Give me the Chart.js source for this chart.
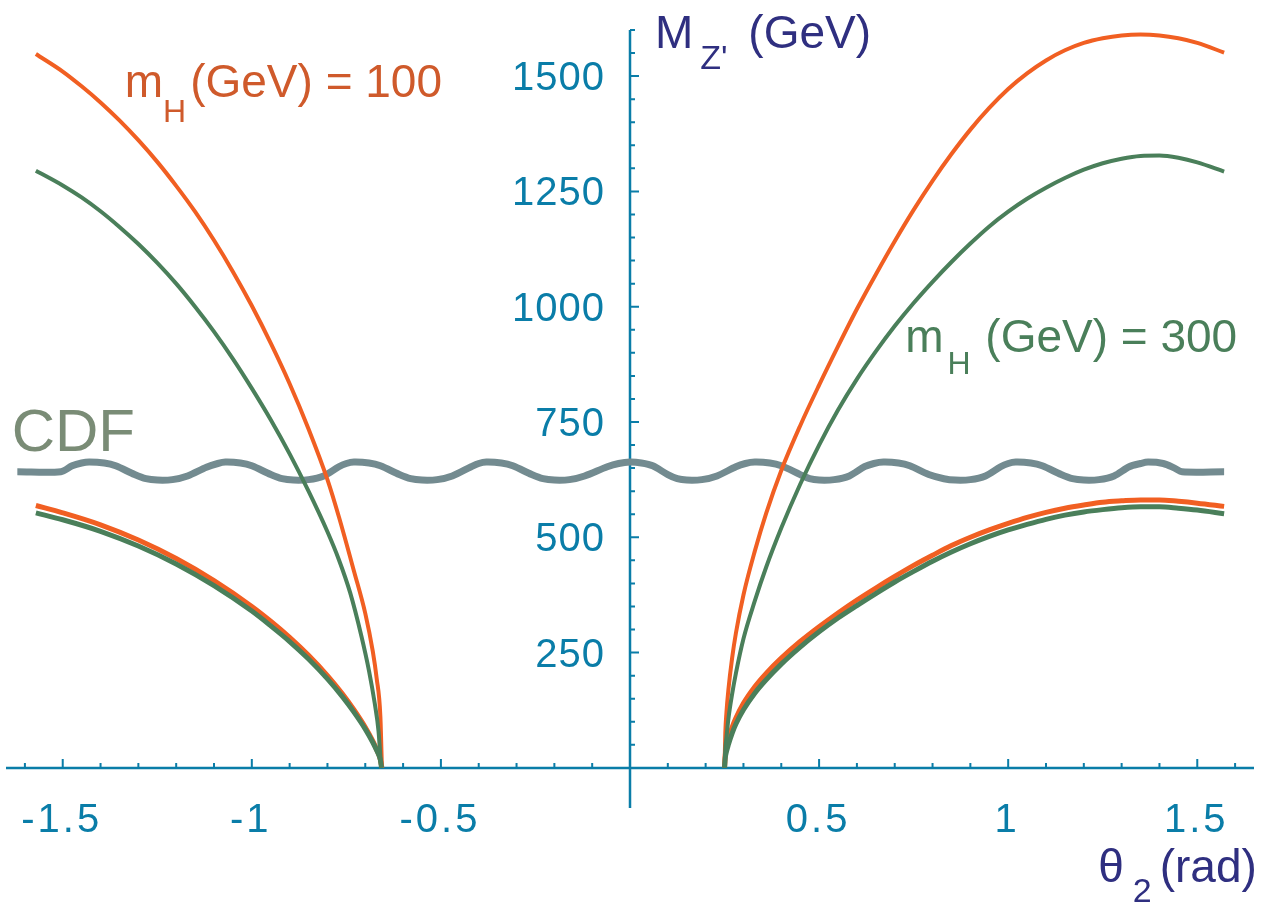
<!DOCTYPE html>
<html>
<head>
<meta charset="utf-8">
<title>M_Z' versus theta_2</title>
<script src="https://cdn.jsdelivr.net/npm/chart.js@4.4.1/dist/chart.umd.min.js"></script>
<style>
  html, body { margin: 0; padding: 0; background: #ffffff; }
  #wrap { width: 1277px; height: 909px; }
</style>
</head>
<body>
<div id="wrap"><canvas id="mzChart" width="1277" height="909"></canvas></div>
<script>
// theta_2 (rad) -> M_Z' (GeV)
// m_H = 100 GeV
const upperLeft100 = [[-1.571,1548],[-1.50,1510],[-1.45,1478],[-1.40,1443],[-1.35,1404],[-1.30,1361],[-1.25,1314],[-1.20,1262],[-1.15,1206],[-1.10,1144],[-1.05,1076],[-1.00,1002],[-0.95,921],[-0.90,833],[-0.85,735],[-0.80,625],[-0.77,545],[-0.73,427],[-0.70,335],[-0.68,252],[-0.67,195],[-0.66,110],[-0.656,0]];
const lowerLeft100 = [[-1.571,569],[-1.50,553],[-1.40,527],[-1.30,494],[-1.20,454],[-1.10,406],[-1.00,350],[-0.95,318],[-0.90,283],[-0.85,244],[-0.80,200],[-0.76,160],[-0.73,126],[-0.70,88],[-0.68,58],[-0.67,40],[-0.66,18],[-0.656,0]];
const upperRight100 = [[0.25,0],[0.252,75],[0.255,120],[0.26,168],[0.27,238],[0.28,292],[0.30,375],[0.33,470],[0.36,552],[0.40,645],[0.45,742],[0.50,830],[0.55,914],[0.60,995],[0.65,1070],[0.70,1142],[0.75,1210],[0.80,1273],[0.85,1331],[0.90,1384],[0.95,1431],[1.00,1472],[1.05,1506],[1.10,1534],[1.15,1556],[1.20,1572],[1.25,1582],[1.30,1588],[1.35,1590],[1.40,1588],[1.45,1582],[1.50,1572],[1.571,1551]];
const lowerRight100 = [[0.25,0],[0.252,28],[0.255,45],[0.26,62],[0.27,88],[0.28,108],[0.30,140],[0.33,176],[0.36,205],[0.40,238],[0.45,274],[0.50,306],[0.55,336],[0.60,364],[0.65,390],[0.70,415],[0.75,439],[0.80,461],[0.85,482],[0.90,500],[0.95,516],[1.00,530],[1.05,543],[1.10,554],[1.15,563],[1.20,570],[1.25,576],[1.30,579],[1.35,581],[1.40,581],[1.45,578],[1.50,574],[1.571,567]];

// m_H = 300 GeV
const upperLeft300 = [[-1.571,1295],[-1.50,1263],[-1.45,1237],[-1.40,1207],[-1.35,1173],[-1.30,1136],[-1.25,1095],[-1.20,1050],[-1.15,1000],[-1.10,946],[-1.05,887],[-1.00,823],[-0.95,755],[-0.90,681],[-0.85,600],[-0.80,512],[-0.77,452],[-0.74,380],[-0.71,285],[-0.69,210],[-0.675,140],[-0.665,80],[-0.658,0]];
const lowerLeft300 = [[-1.571,553],[-1.50,538],[-1.40,513],[-1.30,481],[-1.20,442],[-1.10,395],[-1.00,340],[-0.95,308],[-0.90,274],[-0.85,236],[-0.80,193],[-0.76,154],[-0.73,121],[-0.70,84],[-0.68,55],[-0.67,38],[-0.66,17],[-0.657,0]];
const upperRight300 = [[0.25,0],[0.252,40],[0.255,65],[0.26,105],[0.27,160],[0.28,205],[0.30,280],[0.33,362],[0.36,435],[0.40,520],[0.45,615],[0.50,700],[0.55,776],[0.60,843],[0.65,903],[0.70,958],[0.75,1008],[0.80,1054],[0.85,1097],[0.90,1137],[0.95,1174],[1.00,1206],[1.05,1234],[1.10,1258],[1.15,1279],[1.20,1297],[1.25,1311],[1.30,1321],[1.35,1327],[1.40,1328],[1.45,1323],[1.50,1313],[1.571,1293]];
const lowerRight300 = [[0.25,0],[0.252,22],[0.255,35],[0.26,50],[0.27,75],[0.28,95],[0.30,126],[0.33,162],[0.36,191],[0.40,225],[0.45,262],[0.50,295],[0.55,325],[0.60,352],[0.65,378],[0.70,403],[0.75,426],[0.80,448],[0.85,468],[0.90,486],[0.95,502],[1.00,516],[1.05,528],[1.10,539],[1.15,548],[1.20,555],[1.25,560],[1.30,564],[1.35,566],[1.40,566],[1.45,563],[1.50,559],[1.571,551]];

// CDF bound (wavy band)
const cdfBound = [[-1.62,642],[-1.505,642],[-1.475,655],[-1.45,661],[-1.43,663],[-1.39,661],[-1.36,655],[-1.31,636],[-1.28,627],[-1.25,624],[-1.21,625],[-1.17,633],[-1.12,652],[-1.09,660],[-1.07,663],[-1.03,661],[-1.00,655],[-0.95,636],[-0.92,627],[-0.89,624],[-0.85,625],[-0.81,633],[-0.77,653],[-0.75,660],[-0.73,663],[-0.69,661],[-0.66,655],[-0.61,636],[-0.58,627],[-0.55,624],[-0.51,625],[-0.47,633],[-0.42,653],[-0.40,660],[-0.38,663],[-0.34,661],[-0.31,655],[-0.26,636],[-0.23,627],[-0.20,624],[-0.16,625],[-0.12,633],[-0.06,653],[-0.03,660],[0.00,663],[0.03,661],[0.06,655],[0.10,636],[0.125,627],[0.15,624],[0.19,625],[0.23,633],[0.28,653],[0.305,660],[0.33,663],[0.37,661],[0.40,655],[0.45,636],[0.475,627],[0.50,624],[0.54,625],[0.58,633],[0.62,653],[0.645,660],[0.67,663],[0.71,661],[0.74,655],[0.79,636],[0.83,627],[0.86,624],[0.90,625],[0.94,633],[0.98,653],[1.00,660],[1.02,663],[1.06,661],[1.09,655],[1.14,636],[1.17,627],[1.20,624],[1.24,625],[1.28,633],[1.32,653],[1.35,660],[1.37,663],[1.41,660],[1.44,650],[1.46,642],[1.571,642]];

// axis ticks
const xTickValues = [-1.5, -1, -0.5, 0.5, 1, 1.5];
const xTickLabels = ['-1.5', '-1', '-0.5', '0.5', '1', '1.5'];
const yTickValues = [250, 500, 750, 1000, 1250, 1500];
const yTickLabels = ['250', '500', '750', '1000', '1250', '1500'];

const FONT = "'Liberation Sans', Arial, Helvetica, sans-serif";
const AXIS_COLOR = '#0a7da8';
const TITLE_COLOR = '#2f2f80';
const ORANGE = '#f15f22';
const ORANGE_TEXT = '#cf5a2b';
const GREEN = '#4a7f5a';
const CDF_LINE = '#738b90';
const CDF_TEXT = '#7a8c76';

function toPoints(arr) {
    return arr.map(p => ({ x: p[0], y: p[1] }));
}

function curve(label, arr, color, width) {
    return {
        label: label,
        data: toPoints(arr),
        borderColor: color,
        borderWidth: width,
        pointRadius: 0,
        fill: false,
        cubicInterpolationMode: 'monotone'
    };
}

// draw a run of text pieces (used for subscripts)
function drawPieces(ctx, x, y, pieces, color) {
    ctx.fillStyle = color;
    ctx.textAlign = 'left';
    ctx.textBaseline = 'alphabetic';
    let cx = x;
    pieces.forEach(p => {
        ctx.font = p.size + 'px ' + FONT;
        ctx.fillText(p.text, cx, y + (p.dy || 0));
        cx += ctx.measureText(p.text).width + (p.gap || 0);
    });
}

const crossAxes = {
    id: 'crossAxes',
    beforeDatasetsDraw(chart) {
        const ctx = chart.ctx;
        const xs = chart.scales.x;
        const ys = chart.scales.y;
        const area = chart.chartArea;
        const x0 = xs.getPixelForValue(0);
        const y0 = ys.getPixelForValue(0);

        ctx.save();
        ctx.strokeStyle = AXIS_COLOR;
        ctx.lineWidth = 2.5;
        ctx.beginPath();
        ctx.moveTo(area.left, y0);
        ctx.lineTo(area.right, y0);
        ctx.moveTo(x0, area.top);
        ctx.lineTo(x0, area.bottom);
        ctx.stroke();

        // ticks drawn on the inner side of each axis
        ctx.lineWidth = 2;
        ctx.beginPath();
        for (let i = -16; i <= 16; i++) {
            if (i === 0) continue;
            const px = xs.getPixelForValue(i / 10);
            const len = (i % 5 === 0) ? 9 : 5;
            ctx.moveTo(px, y0);
            ctx.lineTo(px, y0 - len);
        }
        for (let v = 50; v <= 1600; v += 50) {
            const py = ys.getPixelForValue(v);
            const len = (v % 250 === 0) ? 9 : 5;
            ctx.moveTo(x0, py);
            ctx.lineTo(x0 + len, py);
        }
        ctx.stroke();

        ctx.fillStyle = AXIS_COLOR;
        ctx.font = '40px ' + FONT;
        ctx.textBaseline = 'alphabetic';
        ctx.textAlign = 'center';
        ctx.letterSpacing = '3px';
        xTickValues.forEach((v, i) => {
            ctx.fillText(xTickLabels[i], xs.getPixelForValue(v) - 1, y0 + 64);
        });
        ctx.letterSpacing = '1px';
        ctx.textAlign = 'right';
        yTickValues.forEach((v, i) => {
            ctx.fillText(yTickLabels[i], x0 - 25, ys.getPixelForValue(v) + 14);
        });
        ctx.letterSpacing = '0px';
        ctx.restore();
    },
    afterDraw(chart) {
        const ctx = chart.ctx;
        const xs = chart.scales.x;
        const ys = chart.scales.y;
        ctx.save();

        // axis titles
        drawPieces(ctx, xs.getPixelForValue(0.066), ys.getPixelForValue(1562), [
            { text: 'M', size: 46, gap: 7 },
            { text: "Z'", size: 34, dy: 21, gap: 8 },
            { text: ' (GeV)', size: 46 }
        ], TITLE_COLOR);
        drawPieces(ctx, xs.getPixelForValue(1.238), ys.getPixelForValue(-247), [
            { text: '\u03b8', size: 46, gap: 9 },
            { text: '2', size: 34, dy: 20, gap: 8 },
            { text: '(rad)', size: 46 }
        ], TITLE_COLOR);

        // curve labels
        drawPieces(ctx, xs.getPixelForValue(-1.336), ys.getPixelForValue(1455), [
            { text: 'm', size: 46 },
            { text: 'H', size: 32, dy: 25, gap: 4 },
            { text: '(GeV) = 100', size: 46 }
        ], ORANGE_TEXT);
        drawPieces(ctx, xs.getPixelForValue(0.7275), ys.getPixelForValue(902), [
            { text: 'm', size: 46, gap: 4 },
            { text: 'H', size: 32, dy: 22, gap: 2 },
            { text: ' (GeV) = 300', size: 46 }
        ], GREEN);
        drawPieces(ctx, xs.getPixelForValue(-1.635), ys.getPixelForValue(688), [
            { text: 'CDF', size: 60 }
        ], CDF_TEXT);

        ctx.restore();
    }
};

const ctx = document.getElementById('mzChart').getContext('2d');
const chart = new Chart(ctx, {
    type: 'line',
    data: {
        // first dataset is drawn on top
        datasets: [
            curve('m_H = 300 upper left', upperLeft300, GREEN, 4),
            curve('m_H = 300 lower left', lowerLeft300, GREEN, 5),
            curve('m_H = 300 upper right', upperRight300, GREEN, 4),
            curve('m_H = 300 lower right', lowerRight300, GREEN, 5),
            curve('m_H = 100 upper left', upperLeft100, ORANGE, 4),
            curve('m_H = 100 lower left', lowerLeft100, ORANGE, 5),
            curve('m_H = 100 upper right', upperRight100, ORANGE, 4),
            curve('m_H = 100 lower right', lowerRight100, ORANGE, 5),
            {
                label: 'CDF',
                data: toPoints(cdfBound),
                borderColor: CDF_LINE,
                borderWidth: 7,
                pointRadius: 0,
                fill: false,
                tension: 0.3
            }
        ]
    },
    options: {
        responsive: false,
        animation: false,
        layout: {
            padding: { left: 6, right: 23, top: 30, bottom: 101 }
        },
        plugins: {
            legend: { display: false },
            tooltip: { enabled: false }
        },
        scales: {
            x: { type: 'linear', min: -1.65, max: 1.65, display: false },
            y: { type: 'linear', min: -87, max: 1600, display: false }
        }
    },
    plugins: [crossAxes]
});
</script>
</body>
</html>
